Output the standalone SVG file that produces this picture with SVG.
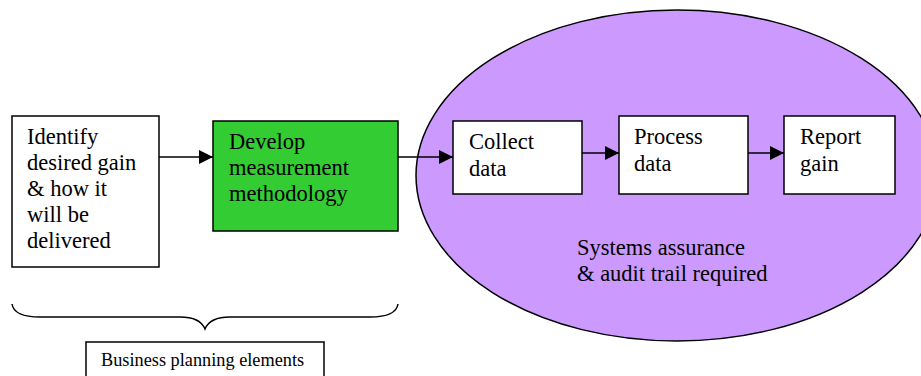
<svg xmlns="http://www.w3.org/2000/svg" width="921" height="376" viewBox="0 0 921 376">
<style>
.box{fill:#fff;stroke:#000;stroke-width:1.5}
.t{font-family:"Liberation Serif","Times New Roman",serif;font-size:22.5px;fill:#000}
.s{font-family:"Liberation Serif","Times New Roman",serif;font-size:18.3px;fill:#000}
.c{stroke:#000;stroke-width:1.5;fill:none}
</style>
<defs>
<marker id="ah" viewBox="0 0 14 14" refX="14" refY="7" markerWidth="14" markerHeight="14" markerUnits="userSpaceOnUse" orient="auto">
<path d="M0,0 L14,7 L0,14 Z" fill="#000"/>
</marker>
</defs>
<g id="assurance">
<ellipse cx="677" cy="175.5" rx="261" ry="165.5" fill="#CC99FF" stroke="#000" stroke-width="1.5"/>
<text class="t" x="577" y="255">Systems assurance</text>
<text class="t" x="577" y="281">&amp; audit trail required</text>
</g>
<g id="identify">
<rect class="box" x="12" y="116" width="147" height="151"/>
<text class="t" x="27" y="144">Identify</text>
<text class="t" x="27" y="170">desired gain</text>
<text class="t" x="27" y="196">&amp; how it</text>
<text class="t" x="27" y="222">will be</text>
<text class="t" x="27" y="248">delivered</text>
</g>
<g id="develop">
<rect x="213" y="121" width="185" height="110" fill="#33CC33" stroke="#000" stroke-width="1.5"/>
<text class="t" x="229" y="149">Develop</text>
<text class="t" x="229" y="175">measurement</text>
<text class="t" x="229" y="201">methodology</text>
</g>
<g id="collect">
<rect class="box" x="453" y="121" width="129" height="73"/>
<text class="t" x="469" y="149">Collect</text>
<text class="t" x="469" y="176">data</text>
</g>
<g id="process">
<rect class="box" x="619" y="116" width="129" height="78"/>
<text class="t" x="634" y="144">Process</text>
<text class="t" x="634" y="171">data</text>
</g>
<g id="report">
<rect class="box" x="784" y="116" width="111" height="78"/>
<text class="t" x="800" y="144">Report</text>
<text class="t" x="800" y="171">gain</text>
</g>
<g id="connectors">
<line class="c" x1="159" y1="157" x2="213" y2="157" marker-end="url(#ah)"/>
<line class="c" x1="398" y1="157" x2="453" y2="157" marker-end="url(#ah)"/>
<line class="c" x1="582" y1="153" x2="619" y2="153" marker-end="url(#ah)"/>
<line class="c" x1="748" y1="153" x2="784" y2="153" marker-end="url(#ah)"/>
</g>
<g id="brace">
<path class="c" d="M12,304 Q14,317 40,317 L180,317 Q200,317 205,329 Q210,317 230,317 L370,317 Q396,317 398,304"/>
</g>
<g id="label">
<rect class="box" x="86" y="342" width="238" height="40"/>
<text class="s" x="101" y="366">Business planning elements</text>
</g>
</svg>
